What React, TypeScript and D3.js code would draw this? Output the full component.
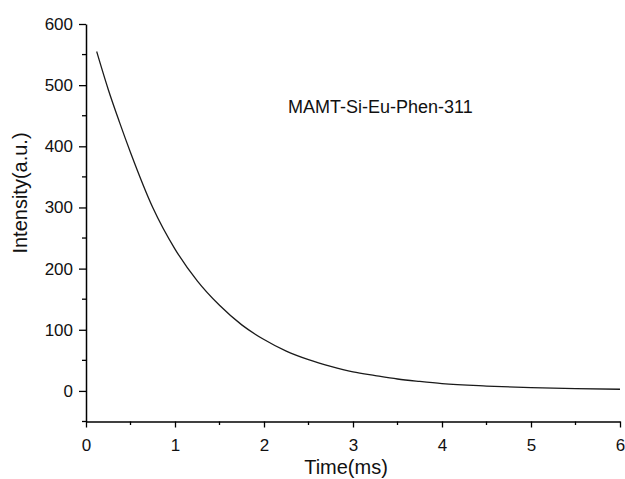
import React, { useEffect, useRef } from 'react';
import * as d3 from 'd3';

// decay curve
const times = [0.12, 0.25, 0.375, 0.5, 0.75, 1.0, 1.25, 1.5, 1.75, 2.0, 2.25, 2.5, 2.75, 3.0, 3.25, 3.5, 3.75, 4.0, 4.5, 5.0, 5.5, 6.0];
const intensities = [555, 493, 440, 390, 300, 232, 180, 140, 108, 84, 65, 51, 40, 31, 25, 19.5, 15.5, 12, 8, 5.3, 3.8, 2.7];

const xTicks = [0, 1, 2, 3, 4, 5, 6];
const xMinor = [0.5, 1.5, 2.5, 3.5, 4.5, 5.5];
const yTicks = [0, 100, 200, 300, 400, 500, 600];
const yMinor = [-50, 50, 150, 250, 350, 450, 550];

const sampleName = 'MAMT-Si-Eu-Phen-311';

export default function App() {
  const ref = useRef<SVGSVGElement>(null);

  useEffect(() => {
    const width = 625;
    const height = 479;
    const svg = d3.select(ref.current);
    svg.selectAll('*').remove();

    const x = d3.scaleLinear().domain([0, 6]).range([86, 620]);
    const y = d3.scaleLinear().domain([-50, 600]).range([421.5, 24]);
    const font = 'Arial, "Liberation Sans", sans-serif';

    const xAxis = svg.append('g').attr('transform', `translate(0,${y(-50)})`);
    xAxis.call(d3.axisBottom(x).tickValues(xTicks).tickSize(6).tickSizeOuter(0).tickPadding(11).tickFormat(d3.format('d')));
    xAxis.append('g').selectAll('line').data(xMinor).enter().append('line')
      .attr('x1', d => x(d)).attr('x2', d => x(d)).attr('y1', 0).attr('y2', 3.5);

    const yAxis = svg.append('g').attr('transform', `translate(${x(0)},0)`);
    yAxis.call(d3.axisLeft(y).tickValues(yTicks).tickSize(7).tickSizeOuter(0).tickPadding(6).tickFormat(d3.format('d')));
    yAxis.append('g').selectAll('line').data(yMinor).enter().append('line')
      .attr('x1', 0).attr('x2', -4).attr('y1', d => y(d)).attr('y2', d => y(d));

    svg.selectAll('.domain').attr('stroke', '#000').attr('stroke-width', 1.5);
    svg.selectAll('line').attr('stroke', '#000').attr('stroke-width', 1.3);
    svg.selectAll('.tick text').style('font-family', font).style('font-size', '17px').attr('fill', '#111');

    const line = d3.line<number>()
      .x((d, i) => x(times[i]))
      .y(d => y(d))
      .curve(d3.curveMonotoneX);

    svg.append('path')
      .datum(intensities)
      .attr('d', line)
      .attr('fill', 'none')
      .attr('stroke', '#1a1a1a')
      .attr('stroke-width', 1.3);

    svg.append('text')
      .text(sampleName)
      .attr('x', 288)
      .attr('y', 113)
      .style('font-family', font)
      .style('font-size', '18px')
      .attr('fill', '#111');

    svg.append('text')
      .text('Time(ms)')
      .attr('x', 346)
      .attr('y', 474)
      .attr('text-anchor', 'middle')
      .style('font-family', font)
      .style('font-size', '20px')
      .attr('fill', '#111');

    svg.append('text')
      .text('Intensity(a.u.)')
      .attr('transform', 'translate(27,193) rotate(-90)')
      .attr('text-anchor', 'middle')
      .style('font-family', font)
      .style('font-size', '20px')
      .attr('fill', '#111');

    svg.attr('width', width).attr('height', height);
  }, []);

  return (
    <svg ref={ref} width={625} height={479}
      style={{ position: 'absolute', left: 0, top: 0, background: '#fff' }} />
  );
}
